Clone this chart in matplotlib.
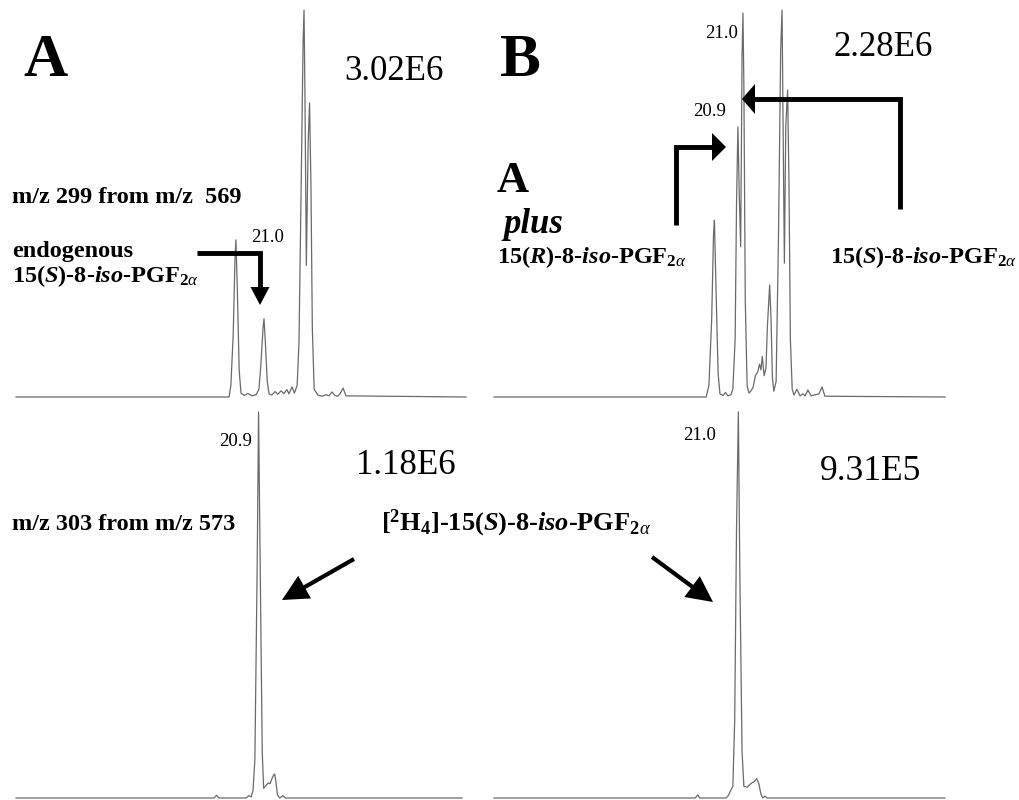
import numpy as np
import matplotlib
matplotlib.use("Agg")
import matplotlib.pyplot as plt
from matplotlib.patches import Polygon

plt.rcParams['font.family'] = ['Liberation Serif', 'DejaVu Serif']
plt.rcParams['mathtext.fontset'] = 'custom'
plt.rcParams['mathtext.rm'] = 'Liberation Serif'
plt.rcParams['mathtext.it'] = 'Liberation Serif:italic'
plt.rcParams['mathtext.bf'] = 'Liberation Serif:bold'
plt.rcParams['mathtext.bfit'] = 'Liberation Serif:bold:italic'

# ---- data: retention time (min) vs relative intensity (% of panel max) ----
# A, m/z 299 from m/z 569
a_top_time = [15.61, 20.24, 20.28, 20.33, 20.37, 20.39, 20.42, 20.46, 20.50, 20.57,
              20.65, 20.74, 20.83, 20.89, 20.93, 20.98, 21.00, 21.03, 21.07, 21.11,
              21.17, 21.24, 21.30, 21.37, 21.43, 21.50, 21.54, 21.61, 21.66, 21.72,
              21.76, 21.80, 21.85, 21.87, 21.89, 21.92, 21.96, 21.99, 22.02, 22.05,
              22.09, 22.17, 22.26, 22.35, 22.41, 22.48, 22.54, 22.60, 22.65, 22.72,
              22.78, 25.39]
a_top_int = [0, 0, 3, 16, 36, 40.6, 28, 7, 1, 0.4,
             0.9, 0.3, 0.6, 2, 8, 18, 20.2, 14, 4, 0.8,
             0.5, 1.4, 0.7, 1.6, 0.9, 1.9, 0.8, 2.6, 1.0, 3,
             14, 48, 92, 100, 78, 34, 66, 76, 55, 18,
             2, 0.5, 0.2, 0.6, 0.3, 1.3, 0.4, 0.2, 0.8, 2.3,
             0.3, 0]

# B, A plus 15(R)-8-iso-PGF2a
b_top_time = [15.59, 20.20, 20.26, 20.32, 20.36, 20.38, 20.41, 20.46, 20.50, 20.57,
              20.62, 20.67, 20.74, 20.78, 20.83, 20.86, 20.89, 20.92, 20.95, 20.98,
              21.00, 21.02, 21.05, 21.09, 21.13, 21.17, 21.22, 21.27, 21.32, 21.36,
              21.39, 21.42, 21.46, 21.50, 21.53, 21.58, 21.61, 21.64, 21.67, 21.72,
              21.77, 21.82, 21.85, 21.87, 21.90, 21.93, 21.97, 22.00, 22.03, 22.07,
              22.11, 22.17, 22.24, 22.30, 22.35, 22.41, 22.48, 22.54, 22.65, 22.72,
              22.78, 25.39]
b_top_int = [0, 0, 3, 20, 42, 45.7, 30, 6, 0.8, 0.4,
             1.2, 0.3, 0.6, 2, 15, 50, 69.8, 52, 38.8, 88,
             99.2, 80, 25, 3, 1, 1.5, 2.5, 5.5, 6.5, 8.5,
             7, 10.5, 5.5, 7.5, 18, 29, 20, 5, 1.5, 4,
             40, 90, 100, 72, 34.6, 70, 79.3, 55, 15, 2,
             0.5, 2, 0.3, 0.8, 0.3, 1.8, 0.3, 0.5, 0.8, 2.6,
             0.2, 0]

# A, m/z 303 from m/z 573 (internal standard)
a_bot_time = [15.62, 19.92, 19.98, 20.03, 20.62, 20.68, 20.73, 20.77, 20.81, 20.86,
              20.89, 20.93, 20.97, 21.00, 21.05, 21.10, 21.14, 21.18, 21.22, 21.24,
              21.27, 21.30, 21.35, 21.42, 21.47, 25.31]
a_bot_int = [0, 0, 0.7, 0, 0, 0.6, 0.3, 2, 10, 60,
             100, 55, 12, 2.5, 3.2, 3.9, 3.7, 5, 6, 6.2,
             4, 0.8, 0, 0.6, 0, 0]

# B, m/z 303 from m/z 573 (internal standard)
b_bot_time = [15.70, 20.07, 20.13, 20.17, 20.74, 20.79, 20.87, 20.89, 20.93, 20.97,
              21.01, 21.04, 21.09, 21.13, 21.20, 21.26, 21.30, 21.35, 21.41, 21.46,
              21.50, 21.54, 21.59, 21.63, 25.50]
b_bot_int = [0, 0, 0.8, 0, 0, 0.6, 2.6, 3, 20, 70,
             100, 60, 12, 3, 2.8, 3.5, 3.9, 4.2, 5.0, 3.5,
             1, 0, 0.5, 0, 0]

scale_labels = ["3.02E6", "2.28E6", "1.18E6", "9.31E5"]
peak_labels = ["21.0", "21.0", "20.9", "20.9", "21.0"]

W, H = 1020, 800
fig = plt.figure(figsize=(W / 100, H / 100), dpi=100)


def panel(x0, x1, ybase, ytop, t, y):
    ax = fig.add_axes([x0 / W, 1 - ybase / H, (x1 - x0) / W, (ybase - ytop) / H])
    ax.plot(t, y, color='#6a6a6a', lw=0.9, clip_on=False)
    ax.set_xlim(t[0], t[-1])
    ax.set_ylim(0, 100)
    ax.axis('off')
    return ax


panel(16, 466, 397, 10, a_top_time, a_top_int)
panel(494, 945, 397, 10, b_top_time, b_top_int)
panel(16, 462, 798, 412, a_bot_time, a_bot_int)
panel(494, 945, 798, 412, b_bot_time, b_bot_int)

# overlay in pixel coordinates for labels and arrows
ov = fig.add_axes([0, 0, 1, 1])
ov.set_xlim(0, W)
ov.set_ylim(H, 0)
ov.axis('off')


def bent_arrow(pts, head_len, head_w, lw):
    pts = np.array(pts, float)
    tip, prev = pts[-1], pts[-2]
    d = (tip - prev) / np.hypot(*(tip - prev))
    base = tip - d * head_len
    shaft = np.vstack([pts[:-1], base + d * 1.0])
    ov.plot(shaft[:, 0], shaft[:, 1], color='k', lw=lw,
            solid_joinstyle='miter', solid_capstyle='butt')
    n = np.array([-d[1], d[0]])
    ov.add_patch(Polygon([tip, base + n * head_w / 2, base - n * head_w / 2],
                         closed=True, color='k', lw=0))


# panel letters
ov.text(46, 61, "A", fontsize=44, fontweight='bold', ha='center', va='center')
ov.text(520, 61, "B", fontsize=44, fontweight='bold', ha='center', va='center')

# scale factors
ov.text(394, 72, scale_labels[0], fontsize=25, ha='center', va='center')
ov.text(883, 47, scale_labels[1], fontsize=25, ha='center', va='center')
ov.text(406, 465, scale_labels[2], fontsize=25, ha='center', va='center')
ov.text(871, 472, scale_labels[3], fontsize=25.5, ha='center', va='center')

# retention time labels
ov.text(268, 238, peak_labels[0], fontsize=13.5, ha='center', va='center')
ov.text(722, 34, peak_labels[1], fontsize=13.5, ha='center', va='center')
ov.text(710, 112, peak_labels[2], fontsize=13.5, ha='center', va='center')
ov.text(236, 441, peak_labels[3], fontsize=13.5, ha='center', va='center')
ov.text(700, 436, peak_labels[4], fontsize=13.5, ha='center', va='center')

iso_s = r'15($\mathbfit{S}$)-8-$\mathbfit{iso}$-PGF$_{\mathbf{2}\alpha}$'
iso_r = r'15($\mathbfit{R}$)-8-$\mathbfit{iso}$-PGF$_{\mathbf{2}\alpha}$'
d4 = r'[$^{\mathbf{2}}$H$_{\mathbf{4}}$]-15($\mathbfit{S}$)-8-$\mathbfit{iso}$-PGF$_{\mathbf{2}\alpha}$'

bold = dict(fontsize=17.5, fontweight='bold', va='baseline', ha='left')
ov.text(12, 203, "m/z 299 from m/z  569", **bold)
ov.text(12, 257, "endogenous", **bold)
ov.text(12, 282, iso_s, **bold)
ov.text(497, 192, "A", fontsize=32, fontweight='bold', va='baseline', ha='left')
ov.text(503, 233, "plus", fontsize=25, fontweight='bold', fontstyle='italic',
        va='baseline', ha='left')
ov.text(497, 263, iso_r, **bold)
ov.text(830, 263, iso_s, **bold)
ov.text(12, 530, "m/z 303 from m/z 573", **bold)
ov.text(381, 530, d4, fontsize=19, fontweight='bold', va='baseline', ha='left')

# arrows
bent_arrow([(197, 253), (260, 253), (260, 305)], 18, 19, 3.5)
bent_arrow([(676, 225), (676, 147), (726, 147)], 14, 28, 3.5)
bent_arrow([(900, 209), (900, 99), (742, 99)], 13, 30, 3.5)
bent_arrow([(354, 559), (282, 600)], 26, 26, 3.0)
bent_arrow([(652, 557), (713, 602)], 26, 26, 3.0)

fig.savefig("out.png", dpi=100, facecolor='white')
